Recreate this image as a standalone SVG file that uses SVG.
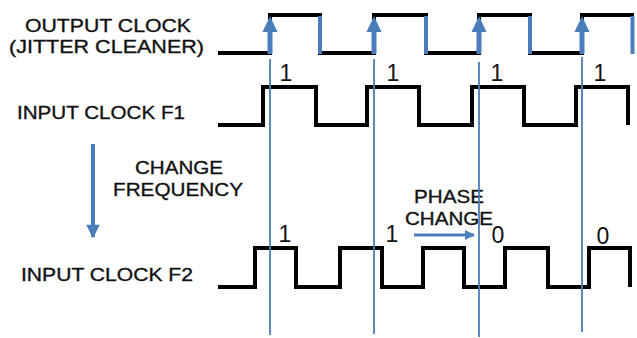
<svg xmlns="http://www.w3.org/2000/svg" width="637" height="338" viewBox="0 0 637 338">
<style>
.lbl{font-family:"Liberation Sans",Arial,sans-serif;font-size:19px;fill:#111;stroke:#111;stroke-width:0.35}
.dig{font-family:"Liberation Sans",Arial,sans-serif;font-size:23px;fill:#111;text-anchor:middle}
.wave{fill:none;stroke:#000;stroke-width:4;stroke-linejoin:miter}
.mark{stroke:#4a7ebb;stroke-width:1.8}
.bar{fill:#4a7ebb}
</style>
<defs>
<marker id="ah" viewBox="0 0 10 10" refX="9" refY="5" markerWidth="3.6" markerHeight="3.4" orient="auto" markerUnits="strokeWidth">
<path d="M0,0 L10,5 L0,10 Z" fill="#4a7ebb"/>
</marker>
<g id="uparrow">
<rect x="-2.5" y="31" width="5" height="23" fill="#4a7ebb"/>
<path d="M-7.5,32 L0,16 L7.5,32 Z" fill="#4a7ebb"/>
</g>
</defs>

<g id="labels">
<text class="lbl" x="25" y="32" textLength="166" lengthAdjust="spacingAndGlyphs">OUTPUT CLOCK</text>
<text class="lbl" x="9" y="53" textLength="195" lengthAdjust="spacingAndGlyphs">(JITTER CLEANER)</text>
<text class="lbl" x="17" y="119" textLength="168" lengthAdjust="spacingAndGlyphs">INPUT CLOCK F1</text>
<text class="lbl" x="135" y="174" textLength="88" lengthAdjust="spacingAndGlyphs">CHANGE</text>
<text class="lbl" x="113" y="196" textLength="130" lengthAdjust="spacingAndGlyphs">FREQUENCY</text>
<text class="lbl" x="21" y="281" textLength="172" lengthAdjust="spacingAndGlyphs">INPUT CLOCK F2</text>
<text class="lbl" x="414" y="203" textLength="70" lengthAdjust="spacingAndGlyphs">PHASE</text>
<text class="lbl" x="405" y="225" textLength="88" lengthAdjust="spacingAndGlyphs">CHANGE</text>
</g>

<g id="output-clock">
<path class="wave" d="M218,53 H270 V15 H320 V53 H374 V15 H426 V53 H479 V15 H530 V53 H582 V15 H634"/>
<rect class="bar" x="318" y="16" width="4" height="38"/>
<rect class="bar" x="424" y="16" width="4" height="38"/>
<rect class="bar" x="528" y="16" width="4" height="38"/>
<rect class="bar" x="630.5" y="16" width="4" height="38"/>
<use href="#uparrow" x="270" y="0"/>
<use href="#uparrow" x="374" y="0"/>
<use href="#uparrow" x="479" y="0"/>
<use href="#uparrow" x="582" y="0"/>
</g>

<g id="input-clock-f1">
<path class="wave" d="M218,125 H263 V87 H316 V125 H367 V87 H419 V125 H472 V87 H524 V125 H576 V87 H628 V125"/>
<text class="dig" x="286" y="81">1</text>
<text class="dig" x="393" y="81">1</text>
<text class="dig" x="497" y="81">1</text>
<text class="dig" x="600" y="81">1</text>
</g>

<g id="input-clock-f2">
<path class="wave" d="M218,287 H255 V248 H296 V287 H340 V248 H382 V287 H423 V248 H464 V287 H505 V248 H548 V287 H589 V248 H630 V287"/>
<text class="dig" x="285" y="242">1</text>
<text class="dig" x="392" y="242">1</text>
<text class="dig" x="498" y="243">0</text>
<text class="dig" x="603" y="244">0</text>
</g>

<g id="connectors">
<line class="mark" x1="270" y1="59" x2="270" y2="335"/>
<line class="mark" x1="374" y1="59" x2="374" y2="334"/>
<line class="mark" x1="479" y1="62" x2="479" y2="337"/>
<line class="mark" x1="582" y1="57" x2="582" y2="332"/>
<line x1="93" y1="144" x2="93" y2="237" stroke="#4a7ebb" stroke-width="4" marker-end="url(#ah)"/>
<line x1="414" y1="235" x2="474" y2="235" stroke="#4a7ebb" stroke-width="3" marker-end="url(#ah)"/>
</g>
</svg>
